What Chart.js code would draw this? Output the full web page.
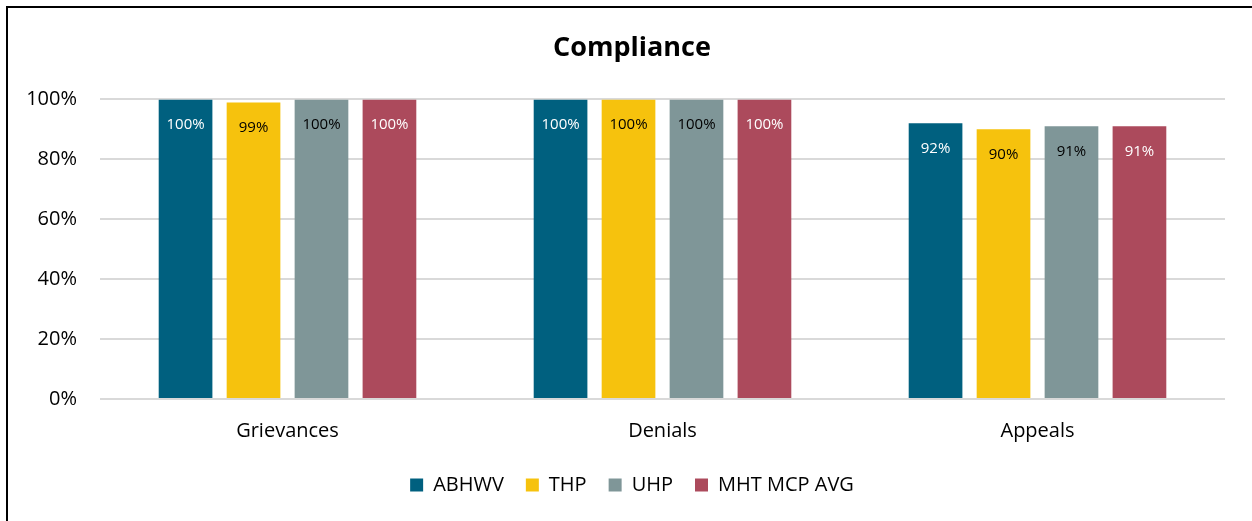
<!DOCTYPE html>
<html>
<head>
<meta charset="utf-8">
<script src="https://cdn.jsdelivr.net/npm/chart.js@4.4.1/dist/chart.umd.min.js"></script>
<style>
  html, body { margin: 0; padding: 0; background: #fff; }
  #wrap { position: relative; width: 1252px; height: 521px; }
  #frame {
    position: absolute; left: 6px; top: 6px; right: 0; bottom: 0;
    border-top: 2px solid #000; border-left: 2px solid #000;
    pointer-events: none;
  }
</style>
</head>
<body>
<div id="wrap">
  <canvas id="myBarChart" width="1252" height="521"></canvas>
  <div id="frame"></div>
</div>
<script>
// Compliance by plan, in percent
const categories = ["Grievances", "Denials", "Appeals"];
const abhwvValues = [100, 100, 92];
const thpValues = [99, 100, 90];
const uhpValues = [100, 100, 91];
const mhtAvgValues = [100, 100, 91];
const yTicks = [0, 20, 40, 60, 80, 100];

const FONT = "'Open Sans', Lato, sans-serif";

// Writes the value just below the top of each bar
const barLabels = {
  id: "barLabels",
  afterDatasetsDraw(chart) {
    const ctx = chart.ctx;
    ctx.save();
    ctx.font = "15px " + FONT;
    ctx.textAlign = "center";
    ctx.textBaseline = "middle";
    chart.data.datasets.forEach((ds, i) => {
      const meta = chart.getDatasetMeta(i);
      ctx.fillStyle = ds.labelColor;
      meta.data.forEach((bar, j) => {
        ctx.fillText(ds.data[j] + "%", bar.x, bar.y + 25);
      });
    });
    ctx.restore();
  },
};

// The y labels sit left of the axis box, so widen its clip area
const wideYLabels = {
  id: "wideYLabels",
  afterLayout(chart) {
    chart.scales.y.left = 0;
  },
};

const ctx1 = document.getElementById("myBarChart").getContext("2d");
new Chart(ctx1, {
  type: "bar",
  data: {
    labels: categories,
    datasets: [
      { label: "ABHWV", data: abhwvValues, backgroundColor: "#00607F", labelColor: "#fff" },
      { label: "THP", data: thpValues, backgroundColor: "#F6C20D", labelColor: "#000" },
      { label: "UHP", data: uhpValues, backgroundColor: "#7F9698", labelColor: "#000" },
      { label: "MHT MCP AVG", data: mhtAvgValues, backgroundColor: "#AC4A5C", labelColor: "#fff" },
    ],
  },
  options: {
    responsive: false,
    animation: false,
    datasets: {
      bar: { categoryPercentage: 0.725, barPercentage: 0.79 },
    },
    layout: { padding: { left: 39, right: 27, top: 0, bottom: 16 } },
    scales: {
      x: {
        grid: { display: false },
        border: { display: false },
        ticks: { color: "#000", font: { family: FONT, size: 20 }, padding: 12 },
        afterFit: (scale) => { scale.height = 54; },
      },
      y: {
        min: 0,
        max: 100,
        afterBuildTicks: (scale) => { scale.ticks = yTicks.map((v) => ({ value: v })); },
        grid: { color: "#d9d9d9", lineWidth: 2, drawTicks: false },
        border: { display: false },
        ticks: {
          color: "#000",
          font: { family: FONT, size: 20 },
          padding: 23,
          callback: (v) => v + "%",
        },
        afterFit: (scale) => { scale.width = 61; },
      },
    },
    plugins: {
      title: {
        display: true,
        text: "Compliance",
        color: "#000",
        font: { family: FONT, size: 27, weight: "bold" },
        padding: { top: 32, bottom: 35 },
      },
      legend: {
        position: "bottom",
        labels: {
          color: "#000",
          font: { family: FONT, size: 20 },
          boxWidth: 13,
          boxHeight: 13,
          padding: 22,
        },
      },
      tooltip: { enabled: false },
    },
  },
  plugins: [barLabels, wideYLabels],
});
</script>
</body>
</html>
